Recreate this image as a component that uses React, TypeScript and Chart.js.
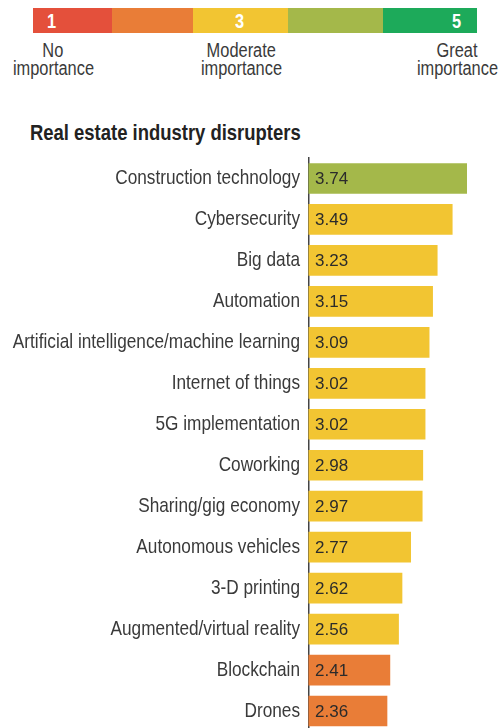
import React, { useEffect, useRef } from "react";
import { Chart, registerables } from "chart.js";

Chart.register(...registerables);

const categories = [
  "Construction technology",
  "Cybersecurity",
  "Big data",
  "Automation",
  "Artificial intelligence/machine learning",
  "Internet of things",
  "5G implementation",
  "Coworking",
  "Sharing/gig economy",
  "Autonomous vehicles",
  "3-D printing",
  "Augmented/virtual reality",
  "Blockchain",
  "Drones",
];
const scores = [3.74, 3.49, 3.23, 3.15, 3.09, 3.02, 3.02, 2.98, 2.97, 2.77, 2.62, 2.56, 2.41, 2.36];

const levelColors = ["#E4503B", "#E97D37", "#F2C532", "#A4B84A", "#1DAA5A"];
const levelNumbers = ["1", "", "3", "", "5"];
const levelLabels = [["No", "importance"], null, ["Moderate", "importance"], null, ["Great", "importance"]];
const title = "Real estate industry disrupters";

const FONT = '"Liberation Sans", Arial, sans-serif';
const NARROW_X = 0.82;

function colorFor(v: number) {
  const lvl = Math.round(v);
  return levelColors[Math.min(5, Math.max(1, lvl)) - 1];
}

// legend layout (pixels)
const segLeft = [33, 112, 193, 288, 383];
const segWidth = [79, 81, 95, 95, 94];
const numCenter = [52, 0, 240, 0, 457];
const labelCenter = [53, 0, 241, 0, 457];

const narrowSpan = (origin: string): React.CSSProperties => ({
  display: "inline-block",
  transform: `scaleX(${NARROW_X})`,
  transformOrigin: origin,
  whiteSpace: "nowrap",
});

export default function App() {
  const ref = useRef<HTMLCanvasElement | null>(null);

  useEffect(() => {
    if (!ref.current) return;
    const labelPlugin = {
      id: "labels",
      afterDatasetsDraw(chart: any) {
        const ctx = chart.ctx;
        const meta = chart.getDatasetMeta(0);
        const left = chart.chartArea.left;
        ctx.save();
        ctx.textBaseline = "middle";
        meta.data.forEach((bar: any, i: number) => {
          // value inside bar
          ctx.font = `17px ${FONT}`;
          ctx.fillStyle = "#2b2b2b";
          ctx.textAlign = "left";
          ctx.fillText(scores[i].toFixed(2), left + 6.5, bar.y + 1);
          // category label, condensed
          ctx.save();
          ctx.translate(left - 8.5, bar.y);
          ctx.scale(NARROW_X, 1);
          ctx.font = `21px ${FONT}`;
          ctx.fillStyle = "#3a3a3a";
          ctx.textAlign = "right";
          ctx.fillText(categories[i], 0, 0);
          ctx.restore();
        });
        ctx.restore();
      },
    };
    const chart = new Chart(ref.current, {
      type: "bar",
      data: {
        labels: categories,
        datasets: [
          {
            data: scores,
            backgroundColor: scores.map(colorFor),
            borderWidth: 0,
            barThickness: 30,
          },
        ],
      },
      options: {
        indexAxis: "y",
        animation: false,
        responsive: false,
        maintainAspectRatio: false,
        layout: { padding: { left: 0, right: 0, top: 8, bottom: 8.5 } },
        plugins: { legend: { display: false }, tooltip: { enabled: false } },
        scales: {
          x: { display: false, min: 1, max: 4.3 },
          y: {
            afterFit(scale: any) {
              scale.width = 308.5;
            },
            grid: { display: false, drawTicks: false },
            border: { display: true, color: "#444", width: 1.5 },
            ticks: { display: false },
          },
        },
      },
      plugins: [labelPlugin],
    } as any);
    return () => chart.destroy();
  }, []);

  return (
    <div
      style={{
        position: "absolute",
        left: 0,
        top: 0,
        width: 499,
        height: 728,
        overflow: "hidden",
        background: "#fff",
      }}
    >
      {levelColors.map((c, i) => (
        <div
          key={"s" + i}
          style={{ position: "absolute", left: segLeft[i], top: 8, width: segWidth[i], height: 25, background: c }}
        />
      ))}
      {levelNumbers.map((n, i) =>
        n ? (
          <div
            key={"n" + i}
            style={{
              position: "absolute",
              left: numCenter[i] - 20,
              width: 40,
              top: 11,
              textAlign: "center",
              fontFamily: FONT,
              fontWeight: "bold",
              fontSize: 20,
              lineHeight: "20px",
              color: "#fff",
            }}
          >
            <span style={narrowSpan("center")}>{n}</span>
          </div>
        ) : null
      )}
      {levelLabels.map((l, i) =>
        l ? (
          <div
            key={"l" + i}
            style={{
              position: "absolute",
              left: labelCenter[i] - 60,
              width: 120,
              top: 40.5,
              textAlign: "center",
              fontFamily: FONT,
              fontSize: 20,
              lineHeight: "18.5px",
              color: "#3a3a3a",
            }}
          >
            <span style={narrowSpan("center")}>{l[0]}</span>
            <br />
            <span style={narrowSpan("center")}>{l[1]}</span>
          </div>
        ) : null
      )}
      <div
        style={{
          position: "absolute",
          left: 30,
          top: 122,
          fontFamily: FONT,
          fontWeight: "bold",
          fontSize: 22.5,
          lineHeight: "22px",
          color: "#222",
        }}
      >
        <span style={narrowSpan("left")}>{title}</span>
      </div>
      <canvas
        ref={ref}
        width={499}
        height={590}
        style={{ position: "absolute", left: 0, top: 150, width: 499, height: 590 }}
      />
    </div>
  );
}
